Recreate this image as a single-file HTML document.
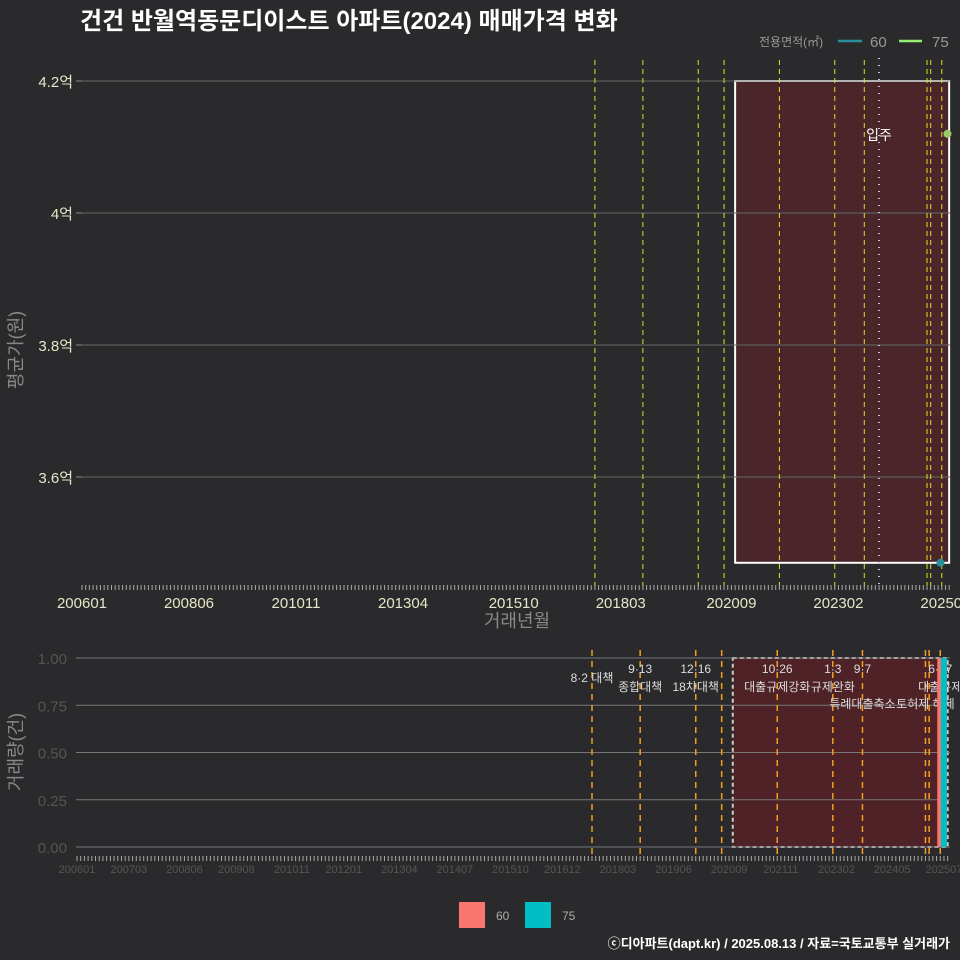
<!DOCTYPE html>
<html><head><meta charset="utf-8"><style>
body{margin:0;background:#2a2a2c;}
svg{display:block;font-family:"Liberation Sans","Noto Sans CJK KR",sans-serif;}
</style></head><body>
<svg id="c" width="960" height="960" viewBox="0 0 960 960">
<rect width="960" height="960" fill="#2a2a2c"/>
<text x="80" y="29" font-size="24" font-weight="bold" fill="#fff">건건 반월역동문디이스트 아파트(2024) 매매가격 변화</text>
<g>
<text x="759" y="46" font-size="12" fill="#999">전용면적(㎡)</text>
<line x1="838" y1="41" x2="862" y2="41" stroke="#2a8f9a" stroke-width="2.5"/>
<text x="870" y="47" font-size="15" fill="#999">60</text>
<line x1="899" y1="41" x2="922" y2="41" stroke="#90ee70" stroke-width="2.5"/>
<text x="932" y="47" font-size="15" fill="#999">75</text>
</g>
<g id="topPanel"></g>
<g id="botPanel"></g>
<text transform="translate(22,350) rotate(-90)" text-anchor="middle" font-size="18" fill="#888">평균가(원)</text>
<text x="517" y="627" text-anchor="middle" font-size="18" fill="#888">거래년월</text>
<text transform="translate(22,752) rotate(-90)" text-anchor="middle" font-size="18" fill="#888">거래량(건)</text>
<g>
<rect x="459" y="902" width="26" height="26" fill="#f8766d"/>
<text x="496" y="920" font-size="12" fill="#aaa">60</text>
<rect x="525" y="902" width="26" height="26" fill="#00bfc4"/>
<text x="562" y="920" font-size="12" fill="#aaa">75</text>
</g>
<text x="950" y="948" text-anchor="end" font-size="13" font-weight="bold" fill="#fff">ⓒ디아파트(dapt.kr) / 2025.08.13 / 자료=국토교통부 실거래가</text>
</svg>
<script>
const priceTicks=[3.6,3.8,4.0,4.2];
const priceTickLabels=["3.6억","3.8억","4억","4.2억"];
const topXLabels=["200601","200806","201011","201304","201510","201803","202009","202302","202507"];
const botXLabels=["200601","200703","200806","200908","201011","201201","201304","201407","201510","201612","201803","201906","202009","202111","202302","202405","202507"];
const priceSeries=["60","75"];
const priceMonths=["202507","202507"];
const priceValues=[3.47,4.12];
const volSeries=["60","75"];
const volMonths=["202506","202507"];
const volValues=[1,1];
const volTicks=[0,0.25,0.5,0.75,1];
const volTickLabels=["0.00","0.25","0.50","0.75","1.00"];
const policyMonths=["201708","201809","201912","202007","202110","202301","202309","202502","202503","202506"];
const policyDates=["8·2 대책","9·13","12·16","","10·26","1·3","9·7","","","6·27"];
const policyNames=["","종합대책","18차대책","","대출규제강화","규제완화","특례대출축소","토허제 해제","","대출규제"];
const moveIn="202401";
const shadeStart="202010", shadeEnd="202508";

const NS="http://www.w3.org/2000/svg";
function mk(p,t,a){const e=document.createElementNS(NS,t);for(const k in a)e.setAttribute(k,a[k]);p.appendChild(e);return e;}
function mi(s){return (+s.slice(0,4)-2006)*12+(+s.slice(4,6)-1);}
const xT=s=>82+mi(s)*3.69;
const yT=v=>81+(4.2-v)*660;
const xB=s=>77+mi(s)*3.705;
const yB=v=>847-v*189;
const gTop=document.getElementById('topPanel'), gBot=document.getElementById('botPanel');

let sh=mk(gTop,'rect',{x:xT(shadeStart),y:yT(4.2),width:xT(shadeEnd)-xT(shadeStart),height:yT(3.47)-yT(4.2),fill:'#4a262b',stroke:'#fff','stroke-width':2});


priceTicks.forEach((v,i)=>{
 const g=mk(gTop,'line',{x1:82,x2:950,y1:yT(v),y2:yT(v),stroke:'#666','stroke-width':1});
 
 
 mk(gTop,'line',{x1:76,x2:82,y1:yT(v),y2:yT(v),stroke:'#888'});
 const t=mk(gTop,'text',{x:73,y:yT(v)+6,'text-anchor':'end','font-size':15,fill:'#e6e6c8'});t.textContent=priceTickLabels[i];
 
 
});
policyMonths.forEach(m=>{
 const l=mk(gTop,'line',{x1:xT(m),x2:xT(m),y1:60,y2:590,stroke:'#e0e020','stroke-width':1,'stroke-dasharray':'5,4'});
 
 
});
let mv=mk(gTop,'line',{x1:xT(moveIn),x2:xT(moveIn),y1:58,y2:590,stroke:'#ccc','stroke-width':2,'stroke-dasharray':'1,6'});


let mt=mk(gTop,'text',{x:xT(moveIn),y:140,'text-anchor':'middle','font-size':14,fill:'#fff'});mt.textContent='입주';


for(let m=0;m<=235;m++){mk(gTop,'line',{x1:82+m*3.69,x2:82+m*3.69,y1:585,y2:590,stroke:'#aaa','stroke-width':1});}
topXLabels.forEach(s=>{const t=mk(gTop,'text',{x:xT(s),y:608,'text-anchor':'middle','font-size':15,fill:'#e6e6c8'});t.textContent=s;
 
 });
priceValues.forEach((v,i)=>{const c=mk(gTop,'circle',{cx:xT(priceMonths[i])+(i?2:-5),cy:yT(v),r:4,fill:i?'#9acb6a':'#2a8f9a'});
 
 });

let sb=mk(gBot,'rect',{x:xB(shadeStart),y:yB(1),width:xB(shadeEnd)-xB(shadeStart),height:yB(0)-yB(1),fill:'#4e2226',stroke:'#ccc','stroke-width':2,'stroke-dasharray':'4,3'});


volTicks.forEach((v,i)=>{
 const g=mk(gBot,'line',{x1:76,x2:950,y1:yB(v),y2:yB(v),stroke:'#777','stroke-width':1});
 
 
 const t=mk(gBot,'text',{x:67,y:yB(v)+6,'text-anchor':'end','font-size':15,fill:'#555'});t.textContent=volTickLabels[i];
 
 
});
policyMonths.forEach((m,i)=>{
 const l=mk(gBot,'line',{x1:xB(m),x2:xB(m),y1:650,y2:856,stroke:'#f0a020','stroke-width':1.5,'stroke-dasharray':'6,5'});
 
 
 if(policyDates[i]){const t=mk(gBot,'text',{x:xB(m),y:i==0?682:673,'text-anchor':'middle','font-size':12,fill:'#ddd'});t.textContent=policyDates[i];
 
 }
 if(policyNames[i]){const t=mk(gBot,'text',{x:xB(m),y:i==6||i==7?708:691,'text-anchor':'middle','font-size':12,fill:'#ddd'});t.textContent=policyNames[i];
 
 }
});
volValues.forEach((v,i)=>{const x=xB(volMonths[i]);const r=mk(gBot,'rect',{x:x-3,y:yB(v),width:6,height:yB(0)-yB(v),fill:i?'#00bfc4':'#f8766d'});
 
 });
for(let m=0;m<=235;m++){mk(gBot,'line',{x1:77+m*3.705,x2:77+m*3.705,y1:856,y2:861,stroke:'#aaa','stroke-width':1});}
botXLabels.forEach(s=>{const t=mk(gBot,'text',{x:xB(s),y:873,'text-anchor':'middle','font-size':11,fill:'#555'});t.textContent=s;
 
 });
</script>
</body></html>
